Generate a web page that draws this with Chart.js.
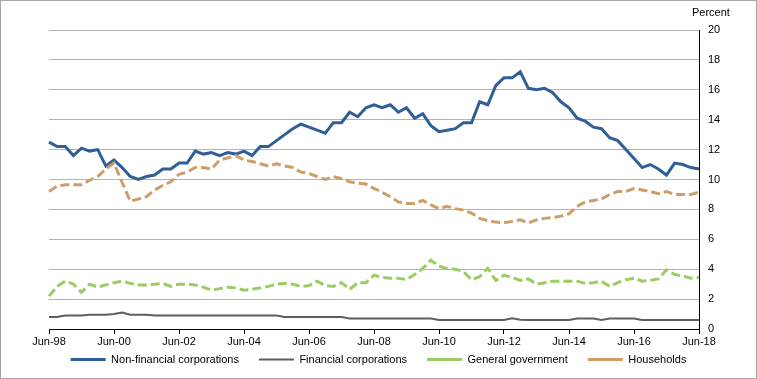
<!DOCTYPE html>
<html>
<head>
<meta charset="utf-8">
<script src="https://cdn.jsdelivr.net/npm/chart.js@4.4.1/dist/chart.umd.min.js"></script>
<style>
  html, body { margin: 0; padding: 0; background: #fff; }
  #wrap { position: relative; width: 757px; height: 379px; }
  #chart { display: block; }
  #frame { position: absolute; left: 0; top: 0; width: 757px; height: 379px; box-sizing: border-box; border: 1px solid #a6a6a6; pointer-events: none; }
</style>
</head>
<body>
<div id="wrap">
  <canvas id="chart" width="757" height="379"></canvas>
  <div id="frame"></div>
</div>
<script>
// Quarter labels, Jun-98 .. Jun-18
const monthNames = ["Jun", "Sep", "Dec", "Mar"];
const quarters = [];
for (let i = 0; i < 81; i++) {
  const yr = 1998 + Math.floor(i / 4) + (i % 4 === 3 ? 1 : 0);
  quarters.push(monthNames[i % 4] + "-" + String(yr).slice(2));
}

const yTicks = [0, 2, 4, 6, 8, 10, 12, 14, 16, 18, 20];

// Series values (percent)
const nonFinancial = [
  12.5, 12.2, 12.2, 11.6, 12.1, 11.9, 12.0, 10.9, 11.3, 10.8,
  10.2, 10.0, 10.2, 10.3, 10.7, 10.7, 11.1, 11.1, 11.9, 11.7,
  11.8, 11.6, 11.8, 11.7, 11.9, 11.6, 12.2, 12.2, 12.6, 13.0,
  13.4, 13.7, 13.5, 13.3, 13.1, 13.8, 13.8, 14.5, 14.2, 14.8,
  15.0, 14.8, 15.0, 14.5, 14.8, 14.1, 14.4, 13.6, 13.2, 13.3,
  13.4, 13.8, 13.8, 15.2, 15.0, 16.3, 16.8, 16.8, 17.2, 16.1,
  16.0, 16.1, 15.8, 15.2, 14.8, 14.1, 13.9, 13.5, 13.4, 12.8,
  12.6, 12.0, 11.4, 10.8, 11.0, 10.7, 10.3, 11.1, 11.0, 10.8, 10.7
];

const financial = [
  0.8, 0.8, 0.9, 0.9, 0.9, 0.95, 0.95, 0.95, 1.0, 1.1,
  0.95, 0.95, 0.95, 0.9, 0.9, 0.9, 0.9, 0.9, 0.9, 0.9,
  0.9, 0.9, 0.9, 0.9, 0.9, 0.9, 0.9, 0.9, 0.9, 0.8,
  0.8, 0.8, 0.8, 0.8, 0.8, 0.8, 0.8, 0.7, 0.7, 0.7,
  0.7, 0.7, 0.7, 0.7, 0.7, 0.7, 0.7, 0.7, 0.6, 0.6,
  0.6, 0.6, 0.6, 0.6, 0.6, 0.6, 0.6, 0.72, 0.62, 0.6,
  0.6, 0.6, 0.6, 0.6, 0.6, 0.7, 0.7, 0.7, 0.6, 0.7,
  0.7, 0.7, 0.7, 0.6, 0.6, 0.6, 0.6, 0.6, 0.6, 0.6, 0.6
];

const government = [
  2.2, 2.85, 3.2, 3.0, 2.45, 3.0, 2.8, 2.95, 3.1, 3.2,
  3.05, 2.95, 2.95, 3.0, 3.05, 2.85, 3.0, 3.0, 2.95, 2.8,
  2.6, 2.7, 2.8, 2.75, 2.6, 2.65, 2.75, 2.85, 3.0, 3.05,
  3.0, 2.85, 2.9, 3.2, 2.9, 2.85, 3.1, 2.65, 3.1, 3.1,
  3.6, 3.45, 3.4, 3.4, 3.3, 3.65, 4.05, 4.6, 4.2, 4.05,
  4.0, 3.85, 3.3, 3.5, 4.05, 3.25, 3.6, 3.45, 3.25, 3.35,
  3.0, 3.1, 3.2, 3.2, 3.2, 3.2, 3.05, 3.1, 3.2, 2.85,
  3.1, 3.3, 3.4, 3.2, 3.25, 3.35, 3.95, 3.65, 3.55, 3.4, 3.45
];

const households = [
  9.2, 9.55, 9.65, 9.65, 9.65, 9.95, 10.2, 10.7, 11.1, 9.8,
  8.55, 8.7, 8.85, 9.3, 9.6, 9.85, 10.35, 10.5, 10.8, 10.8,
  10.7, 11.3, 11.45, 11.6, 11.3, 11.2, 11.05, 10.9, 11.05, 10.9,
  10.8, 10.5, 10.4, 10.2, 10.0, 10.2, 10.05, 9.85, 9.75, 9.7,
  9.4, 9.15, 8.85, 8.5, 8.4, 8.4, 8.6, 8.3, 8.05, 8.2,
  8.05, 7.95, 7.75, 7.4, 7.25, 7.15, 7.1, 7.2, 7.3, 7.1,
  7.3, 7.4, 7.45, 7.55, 7.7, 8.2, 8.5, 8.6, 8.7, 9.0,
  9.2, 9.2, 9.4, 9.3, 9.2, 9.05, 9.2, 9.0, 9.0, 9.0, 9.15
];

const FONT = "'Liberation Sans', Arial, sans-serif";

// "Percent" label above right axis
const percentLabel = {
  id: "percentLabel",
  afterDraw(chart) {
    const ctx = chart.ctx;
    ctx.save();
    ctx.font = "11px " + FONT;
    ctx.fillStyle = "#000";
    ctx.textBaseline = "middle";
    ctx.textAlign = "left";
    ctx.fillText("Percent", chart.chartArea.right - 7, 13);
    ctx.restore();
  }
};

// keep the legend compact and pulled up under the axis labels
const legendHeight = {
  id: "legendHeight",
  beforeUpdate(chart) {
    const legend = chart.legend;
    if (legend && !legend._patched) {
      const fit = legend.fit;
      legend.fit = function () {
        fit.call(this);
        this.height = 28;
      };
      const draw = legend.draw;
      legend.draw = function () {
        const top = this.top;
        this.top = top - 17;
        draw.apply(this, arguments);
        this.top = top;
      };
      legend._patched = true;
    }
  }
};

function lineSet(label, data, color, width, dash) {
  return {
    label: label,
    data: data,
    borderColor: color,
    backgroundColor: color,
    borderWidth: width,
    borderDash: dash,
    pointRadius: 0,
    pointHoverRadius: 0,
    tension: 0,
    fill: false
  };
}

new Chart(document.getElementById("chart"), {
  type: "line",
  data: {
    labels: quarters,
    datasets: [
      Object.assign(lineSet("Non-financial corporations", nonFinancial, "#2f5e99", 3, []), { order: 4 }),
      Object.assign(lineSet("Financial corporations", financial, "#5e5e5e", 2, []), { order: 3 }),
      Object.assign(lineSet("General government", government, "#9bcc62", 3, [9, 4]), { order: 2 }),
      Object.assign(lineSet("Households", households, "#cf9d68", 3, [9, 4]), { order: 1 })
    ]
  },
  options: {
    responsive: false,
    animation: false,
    layout: { padding: { top: 30, left: 0, right: 0, bottom: 0 } },
    plugins: {
      tooltip: { enabled: false },
      legend: {
        position: "bottom",
        labels: {
          usePointStyle: true,
          pointStyle: "line",
          pointStyleWidth: 35,
          padding: 20,
          color: "#000",
          font: { family: FONT, size: 11 },
          sort: (a, b) => a.datasetIndex - b.datasetIndex
        }
      }
    },
    scales: {
      x: {
        type: "category",
        offset: false,
        grid: { display: true, drawOnChartArea: false, drawTicks: true, tickLength: 5, color: "#000" },
        border: { display: true, color: "#000", width: 1 },
        ticks: {
          autoSkip: false,
          maxRotation: 0,
          minRotation: 0,
          padding: 1,
          color: "#000",
          font: { family: FONT, size: 11 },
          callback: function (value, index) {
            return index % 8 === 0 ? this.getLabelForValue(value) : null;
          }
        },
        afterFit(scale) { scale.height = 22; }
      },
      y: {
        position: "right",
        min: 0,
        max: 20,
        afterBuildTicks(scale) { scale.ticks = yTicks.map(v => ({ value: v })); },
        grid: { color: "#b4b4b4", lineWidth: 1, drawTicks: false },
        border: { display: true, color: "#000", width: 1 },
        ticks: {
          padding: 9,
          color: "#000",
          font: { family: FONT, size: 11 }
        },
        afterFit(scale) { scale.width = 58; }
      },
      yLeft: {
        position: "left",
        display: true,
        grid: { display: false },
        border: { display: false },
        ticks: { display: false },
        afterFit(scale) { scale.width = 49; }
      }
    }
  },
  plugins: [percentLabel, legendHeight]
});
</script>
</body>
</html>
